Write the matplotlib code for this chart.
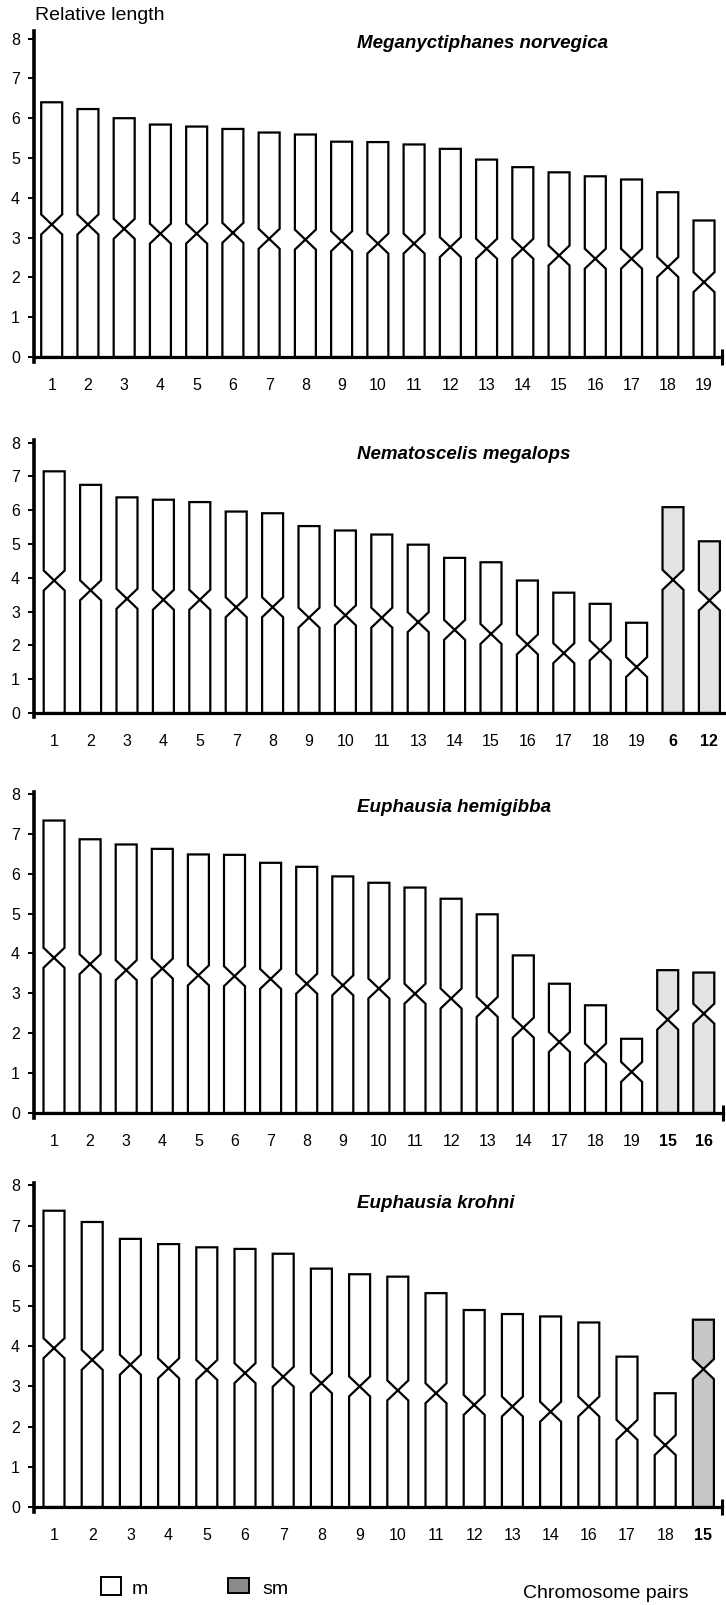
"""
Idiograms of four euphausiid karyotypes: relative length per chromosome pair,
with the centromere drawn as a constriction (m = metacentric, sm = submetacentric).
"""

import matplotlib
matplotlib.use("Agg")
import matplotlib.pyplot as plt
from matplotlib.patches import Polygon, Rectangle

plt.rcParams["font.family"] = ["Liberation Sans", "DejaVu Sans"]

# ── Data (relative length, centromere height) ────────────────────────────────
mn_labels = [str(i) for i in range(1, 20)]
mn_length = [6.40, 6.23, 6.00, 5.84, 5.79, 5.73, 5.64, 5.59, 5.41, 5.40,
             5.34, 5.23, 4.96, 4.77, 4.64, 4.54, 4.46, 4.14, 3.43]
mn_centro = [3.33, 3.33, 3.22, 3.10, 3.10, 3.12, 2.97, 2.95, 2.91, 2.85,
             2.85, 2.76, 2.72, 2.72, 2.55, 2.47, 2.47, 2.26, 1.88]
mn_sm     = []

nm_labels = ["1", "2", "3", "4", "5", "7", "8", "9", "10", "11", "13", "14",
             "15", "16", "17", "18", "19", "6", "12"]
nm_length = [7.15, 6.75, 6.38, 6.31, 6.24, 5.96, 5.91, 5.53, 5.40, 5.28,
             4.98, 4.59, 4.46, 3.92, 3.56, 3.23, 2.67, 6.09, 5.08]
nm_centro = [3.92, 3.63, 3.38, 3.35, 3.35, 3.13, 3.13, 2.82, 2.89, 2.82,
             2.69, 2.46, 2.34, 2.03, 1.77, 1.85, 1.36, 3.94, 3.33]
nm_sm     = ["6", "12"]

eh_labels = ["1", "2", "3", "4", "5", "6", "7", "8", "9", "10", "11", "12",
             "13", "14", "17", "18", "19", "15", "16"]
eh_length = [7.33, 6.86, 6.73, 6.62, 6.48, 6.47, 6.27, 6.17, 5.93, 5.77,
             5.65, 5.37, 4.98, 3.95, 3.24, 2.70, 1.86, 3.58, 3.52]
eh_centro = [3.89, 3.73, 3.58, 3.62, 3.45, 3.43, 3.36, 3.24, 3.20, 3.12,
             2.99, 2.87, 2.66, 2.14, 1.78, 1.49, 1.03, 2.34, 2.49]
eh_sm     = ["15", "16"]

ek_labels = ["1", "2", "3", "4", "5", "6", "7", "8", "9", "10", "11", "12",
             "13", "14", "16", "17", "18", "15"]
ek_length = [7.37, 7.09, 6.67, 6.54, 6.46, 6.42, 6.30, 5.93, 5.79, 5.73,
             5.32, 4.90, 4.80, 4.74, 4.59, 3.74, 2.83, 4.66]
ek_centro = [3.95, 3.66, 3.54, 3.45, 3.41, 3.33, 3.24, 3.08, 3.00, 2.90,
             2.83, 2.54, 2.50, 2.37, 2.50, 1.92, 1.54, 3.43]
ek_sm     = ["15"]

species = ["Meganyctiphanes norvegica", "Nematoscelis megalops",
           "Euphausia hemigibba", "Euphausia krohni"]

# ── Layout (pixels in a 726 x 1605 canvas) ───────────────────────────────────
W, H   = 726, 1605
AXIS_X = 34
BAR_W  = 21      # px
CEN_H  = 10      # px, half height of the centromere constriction
# zero line, px per unit, first bar centre, bar step, right end, end tick, sm fill
PANELS = [
    dict(zero=357,  unit=39.8, first=51.7, step=36.24, right=722, end=True,  top=8.19, sm_col="#e4e4e4", title_y=43),
    dict(zero=713,  unit=33.8, first=54.2, step=36.4,  right=726, end=False, top=8.08, sm_col="#e4e4e4", title_y=455),
    dict(zero=1113, unit=39.9, first=54.0, step=36.1,  right=723, end=True,  top=8.05, sm_col="#e4e4e4", title_y=807),
    dict(zero=1507, unit=40.2, first=54.0, step=38.2,  right=722, end=True,  top=8.06, sm_col="#c6c6c6", title_y=1203),
]
YLO, YHI = -0.6, 8.4

fig = plt.figure(figsize=(W / 100, H / 100), dpi=100)


def chromosome(ax, x, top, cen, hw, d, face):
    L, R = x - hw, x + hw
    pts = [(L, 0), (R, 0), (R, cen - d), (L, cen + d), (L, top),
           (R, top), (R, cen + d), (L, cen - d)]
    ax.add_patch(Polygon(pts, closed=True, facecolor=face, edgecolor="black",
                         lw=1.6, joinstyle="miter", zorder=2))


data = [(mn_labels, mn_length, mn_centro, mn_sm),
        (nm_labels, nm_length, nm_centro, nm_sm),
        (eh_labels, eh_length, eh_centro, eh_sm),
        (ek_labels, ek_length, ek_centro, ek_sm)]

for cfg, (labels, length, centro, sm), name in zip(PANELS, data, species):
    bottom_px = H - (cfg["zero"] - YLO * cfg["unit"])
    height_px = (YHI - YLO) * cfg["unit"]
    ax = fig.add_axes([AXIS_X / W, bottom_px / H,
                       (cfg["right"] - AXIS_X) / W, height_px / H])
    ax.patch.set_visible(False)
    x0 = (AXIS_X - cfg["first"]) / cfg["step"]
    x1 = (cfg["right"] - cfg["first"]) / cfg["step"]
    ax.set_xlim(x0, x1)
    ax.set_ylim(YLO, YHI)

    hw = BAR_W / 2 / cfg["step"]
    d = CEN_H / cfg["unit"]
    for i, (lab, top, cen) in enumerate(zip(labels, length, centro)):
        face = cfg["sm_col"] if lab in sm else "white"
        chromosome(ax, i, top, cen, hw, d, face)

    for s in ("top", "right"):
        ax.spines[s].set_visible(False)
    ax.spines["left"].set_linewidth(2.6)
    ax.spines["left"].set_bounds(-0.12, cfg["top"])
    ax.spines["bottom"].set_linewidth(2.3)
    ax.spines["bottom"].set_position(("data", 0))
    ax.spines["bottom"].set_zorder(3)

    ax.set_yticks(range(0, 9))
    ax.tick_params(axis="y", direction="out", length=4, width=1.4,
                   pad=6, labelsize=11.5)
    ax.set_xticks(range(len(labels)))
    ax.set_xticklabels(labels)
    ax.tick_params(axis="x", length=0, pad=15, labelsize=11.5)
    for t, lab in zip(ax.get_xticklabels(), labels):
        if lab in sm:
            t.set_fontweight("bold")
    if cfg["end"]:
        ax.set_xticks([x1], minor=True)
        ax.tick_params(axis="x", which="minor", direction="inout",
                       length=12, width=2.2)

    fig.text(357 / W, 1 - cfg["title_y"] / H, name, fontsize=13.5,
             fontweight="bold", fontstyle="italic", va="center", ha="left")

fig.text(35 / W, 1 - 15 / H, "Relative length", fontsize=14,
         va="center", ha="left")
fig.text(523 / W, 1 - 1594 / H, "Chromosome pairs", fontsize=14,
         va="center", ha="left")

# legend
fig.add_artist(Rectangle((101 / W, 1 - 1595 / H), 20 / W, 18 / H,
                         transform=fig.transFigure, facecolor="white",
                         edgecolor="black", lw=1.4))
fig.text(132 / W, 1 - 1590 / H, "m", fontsize=14, va="center", ha="left")
fig.add_artist(Rectangle((228 / W, 1 - 1593 / H), 21 / W, 15 / H,
                         transform=fig.transFigure, facecolor="#8a8a8a",
                         edgecolor="black", lw=1.4))
fig.text(262 / W, 1 - 1590 / H, "sm", fontsize=14, va="center", ha="left")

fig.savefig("out.png", dpi=100)
